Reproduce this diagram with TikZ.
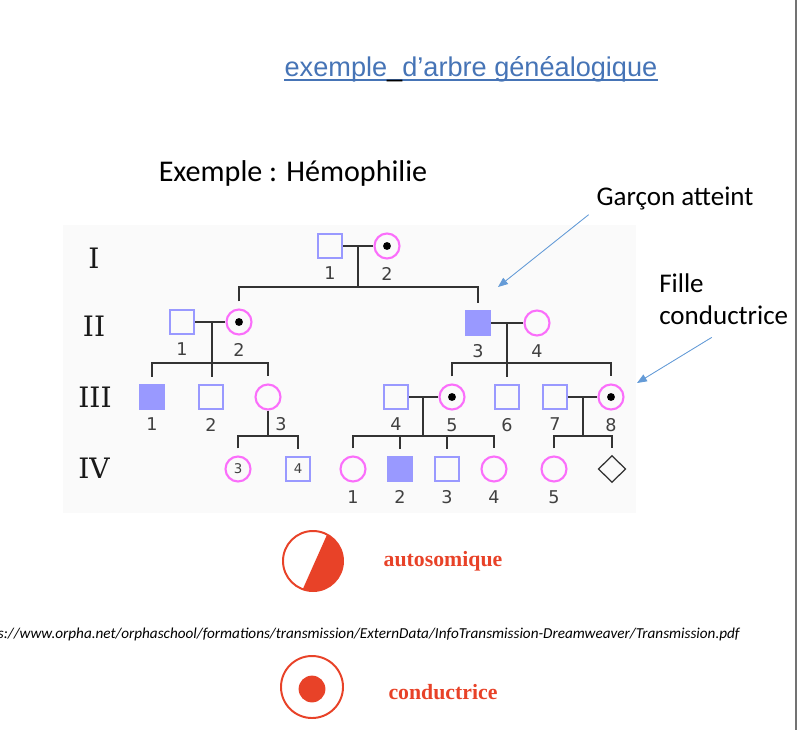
\documentclass[tikz,border=0pt]{standalone}
\usepackage{fontspec}
\usepackage{tikz}
\usetikzlibrary{positioning, arrows.meta, shapes.geometric, backgrounds}
\setmainfont{Liberation Serif}
\newfontfamily\calibri{Carlito}
\newfontfamily\arialf{Liberation Sans}
\newfontfamily\verdana{DejaVu Sans}
\newfontfamily\genfont{DejaVu Serif}
\definecolor{pedBlue}{RGB}{153,153,255}
\definecolor{pedPink}{RGB}{250,110,250}
\definecolor{linkBlue}{RGB}{70,116,182}
\definecolor{noteBlue}{RGB}{100,155,215}
\definecolor{legRed}{RGB}{232,66,40}

\begin{document}
\begin{tikzpicture}[
    x=0.025cm, y=-0.025cm,
    male/.style={rectangle, draw=pedBlue, line width=1.5pt, minimum size=0.6cm, inner sep=0pt, font=\verdana\fontsize{9.5}{10}\selectfont, text=black!75},
    affected/.style={male, fill=pedBlue},
    female/.style={circle, draw=pedPink, line width=1.5pt, minimum size=0.625cm, inner sep=0pt, font=\verdana\fontsize{9.5}{10}\selectfont, text=black!75},
    carrier/.style={female, path picture={\fill[black] (path picture bounding box.center) circle (2.8pt);}},
    unknown/.style={diamond, draw=black!80, line width=0.9pt, minimum width=0.69cm, minimum height=0.67cm, inner sep=0pt},
    kin/.style={draw=black!80, line width=1.1pt},
    sib/.style={kin, shorten <=5pt, shorten >=5pt},
    num/.style={font=\verdana\fontsize{12.5}{14}\selectfont, text=black!75, inner sep=0pt},
    gen/.style={font=\genfont\fontsize{20}{22}\selectfont, text=black!90, inner sep=0pt},
    note/.style={font=\calibri\fontsize{19.2}{23.4}\selectfont, inner sep=0pt},
    pointer/.style={-{Triangle[length=7pt, width=5.5pt]}, draw=noteBlue, fill=noteBlue, line width=0.6pt},
    legtext/.style={font=\bfseries\fontsize{15.5}{18}\selectfont, text=legRed, inner sep=0pt, anchor=base},
    legsym/.style={circle, draw=legRed, line width=1.4pt, inner sep=0pt, outer sep=0pt}
]
\useasboundingbox (0,0) rectangle (800,730);

% Titles
\node[font=\arialf\fontsize{19.3}{23}\selectfont, text=linkBlue, inner sep=0pt, anchor=base] (titre) at (471,76) {exemple\textcolor{black}{\_}d’arbre généalogique};
\node[note, font=\calibri\fontsize{21.4}{25}\selectfont, anchor=base] (exemple) at (293,181) {Exemple : Hémophilie};

% Generations
\node[gen] (gI) at (94,258) {I};
\node[gen] (gII) at (94,326) {II};
\node[gen] (gIII) at (95,397) {III};
\node[gen] (gIV) at (94,468) {IV};

% Generation I
\node[male] (I1) at (330,246) {};
\node[carrier] (I2) at (387,246) {};
% Generation II
\node[male] (II1) at (182,322) {};
\node[carrier] (II2) at (239,322) {};
\node[affected] (II3) at (478,323) {};
\node[female] (II4) at (537,323) {};
% Generation III
\node[affected] (III1) at (152,397) {};
\node[male] (III2) at (211,397) {};
\node[female] (III3) at (268,397) {};
\node[male] (III4) at (396,397) {};
\node[carrier] (III5) at (452,397) {};
\node[male] (III6) at (507,397) {};
\node[male] (III7) at (555,397) {};
\node[carrier] (III8) at (611,397) {};
% Generation IV
\node[female] (IVl3) at (238,469) {3};
\node[male] (IVl4) at (298,469) {4};
\node[female] (IV1) at (353,469) {};
\node[affected] (IV2) at (400,469) {};
\node[male] (IV3) at (447,469) {};
\node[female] (IV4) at (494,469) {};
\node[female] (IV5) at (554,469) {};
\node[unknown] (IV6) at (612,469) {};

% Numbers
\node[num, below=5.5pt of I1] (nI1) {1};
\node[num, below=5.5pt of I2] (nI2) {2};
\node[num, below=5.5pt of II1] (nII1) {1};
\node[num, below=5.5pt of II2] (nII2) {2};
\node[num, below=5.5pt of II3] (nII3) {3};
\node[num, below=5.5pt of II4] (nII4) {4};
\node[num, below=5.5pt of III1] (nIII1) {1};
\node[num, below=5.5pt of III2] (nIII2) {2};
\node[num] (nIII3) at (281,424) {3};
\node[num, below=5.5pt of III4] (nIII4) {4};
\node[num, below=5.5pt of III5] (nIII5) {5};
\node[num, below=5.5pt of III6] (nIII6) {6};
\node[num, below=5.5pt of III7] (nIII7) {7};
\node[num, below=5.5pt of III8] (nIII8) {8};
\node[num, below=5.5pt of IV1] (nIV1) {1};
\node[num, below=5.5pt of IV2] (nIV2) {2};
\node[num, below=5.5pt of IV3] (nIV3) {3};
\node[num, below=5.5pt of IV4] (nIV4) {4};
\node[num, below=5.5pt of IV5] (nIV5) {5};

% Couples and children
\coordinate (dI) at (358,287);
\draw[kin] (I1) -- (I2);
\draw[kin] (dI |- I1) -- (dI);
\draw[sib] (II2.north) |- (dI) -| (II3.north);

\coordinate (dIIa) at (212,363);
\draw[kin] (II1) -- (II2);
\draw[kin] (dIIa |- II1) -- (dIIa);
\draw[sib] (III1.north) |- (dIIa) -| (III3.north);
\draw[kin, shorten >=5pt] (dIIa) -- (dIIa |- III2.north);

\coordinate (dIIb) at (507,363);
\draw[kin] (II3) -- (II4);
\draw[kin] (dIIb |- II3) -- (dIIb);
\draw[sib] (III5.north) |- (dIIb) -| (III8.north);
\draw[kin, shorten >=5pt] (dIIb) -- (III6.north);

\coordinate (dIIIa) at (268,436);
\draw[kin] (III3) -- (dIIIa);
\draw[sib] (IVl3.north) |- (dIIIa) -| (IVl4.north);

\coordinate (dIIIb) at (423,436);
\draw[kin] (III4) -- (III5);
\draw[kin] (dIIIb |- III4) -- (dIIIb);
\draw[sib] (IV1.north) |- (dIIIb) -| (IV4.north);
\foreach \k in {IV2,IV3}
    \draw[kin, shorten >=5pt] (\k.north |- dIIIb) -- (\k.north);

\coordinate (dIIIc) at (583,436);
\draw[kin] (III7) -- (III8);
\draw[kin] (dIIIc |- III7) -- (dIIIc);
\draw[sib] (IV5.north) |- (dIIIc) -| (IV6.north);

% Notes
\node[note, anchor=base] (garcon) at (675,205) {Garçon atteint};
\node[note, align=left, anchor=north west] (fille) at (659,273) {Fille\\conductrice};
\coordinate (garTip) at (498,287);
\coordinate (filleTip) at (637,383);
\draw[pointer] ([shift={(-5.5pt,-3.5pt)}]garcon.south west) -- (garTip);
\draw[pointer] ([shift={(-8.5pt,-8.5pt)}]fille.south) -- (filleTip);

% Legend
\node[legsym, minimum size=1.5cm] (autoSym) at (313,561) {};
\fill[legRed] (autoSym.-110) arc[start angle=-110, end angle=62, radius=0.75cm] -- cycle;
\node[legtext] (autoTxt) at (443,566) {autosomique};
\node[font=\calibri\itshape\fontsize{10.8}{13}\selectfont, anchor=base east, inner sep=0pt] (url) at (740,638) {s://www.orpha.net/orphaschool/formations/transmission/ExternData/InfoTransmission-Dreamweaver/Transmission.pdf};
\node[legsym, minimum size=1.55cm] (condSym) at (312,687) {};
\node[circle, fill=legRed, minimum size=0.67cm, inner sep=0pt] (condDot) at (312,689) {};
\node[legtext] (condTxt) at (443,699) {conductrice};

% Background
\begin{scope}[on background layer]
    \fill[black!2] (63,225) rectangle (636,513);
    \draw[linkBlue, line width=1.3pt] ([yshift=-2.6pt]titre.base west) -- ([yshift=-2.6pt]titre.base east);
\end{scope}
\draw[black!55, line width=0.8pt] (796,0) -- (796,730);
\end{tikzpicture}
\end{document}
